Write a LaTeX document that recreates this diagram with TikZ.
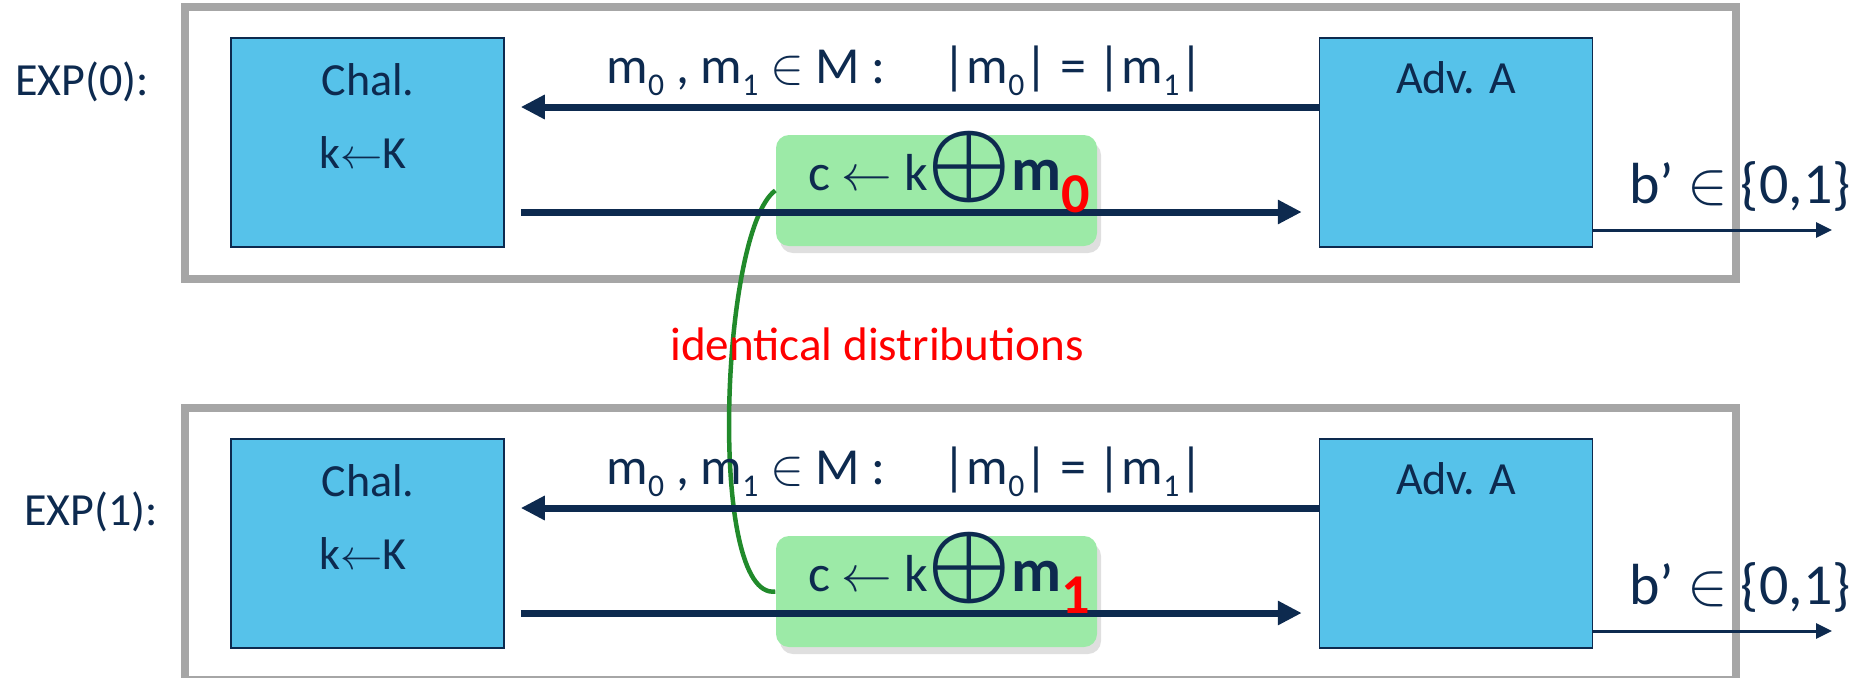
\documentclass[tikz,border=0pt]{standalone}
\usepackage{amsmath,amssymb}
\usepackage{fontspec}
\setmainfont{Carlito}
\usepackage{xcolor}
\usetikzlibrary{positioning,arrows.meta,shadows}
\definecolor{navy}{HTML}{0D2A4F}
\definecolor{boxBlue}{HTML}{56C2EA}
\definecolor{cGreen}{HTML}{9CEAA7}
\definecolor{curveGreen}{HTML}{218A2B}
\definecolor{frameGrey}{HTML}{A6A6A6}
\newcommand{\lowsub}[1]{\raisebox{-3.6pt}{\fontsize{9}{10}\selectfont #1}}
\newcommand{\redsub}[1]{\raisebox{-6.2pt}{\fontsize{16}{18}\selectfont\bfseries\color{red}#1}}
\newcommand{\bigxor}{\scalebox{1.85}{$\boldsymbol{\oplus}$}}

\begin{document}
\begin{tikzpicture}[
  every node/.style={font=\fontsize{13.1}{15}\selectfont, text=navy, inner sep=0pt},
  expframe/.style={draw=frameGrey, line width=0.8mm},
  party/.style={draw=navy, line width=0.15mm, fill=boxBlue, minimum width=2.73cm, minimum height=2.09cm},
  cbox/.style={fill=cGreen, rounded corners=1.3mm, minimum width=3.21cm, minimum height=1.11cm,
    drop shadow={shadow xshift=0.4mm, shadow yshift=-0.7mm, opacity=0.25}},
  msg/.style={draw=navy, line width=0.7mm, -{Triangle[length=2.4mm,width=2.3mm]}},
  outarrow/.style={draw=navy, line width=0.3mm, -{Triangle[length=1.6mm,width=1.5mm]}},
  samedist/.style={draw=curveGreen, line width=0.45mm},
  msglabel/.style={font=\fontsize{14.8}{17}\selectfont},
  ctext/.style={font=\fontsize{14.8}{17}\selectfont},
  outlabel/.style={font=\fontsize{16.5}{19}\selectfont}]
  \useasboundingbox (0,0) rectangle (18.70,6.77);

  \draw[expframe] (1.85,3.98) rectangle (17.36,6.70);
  \draw[expframe] (1.85,-0.03) rectangle (17.36,2.69);

  \node[party] (chal0) at (3.675,5.345) {};
  \node[party] (adv0) at (14.56,5.345) {};
  \node[party] (chal1) at (3.675,1.335) {};
  \node[party] (adv1) at (14.56,1.335) {};

  \node[cbox] (c0) at (9.365,4.865) {};
  \node[cbox] (c1) at (9.365,0.855) {};

  \draw[samedist] (c0.west) .. controls +(-0.55,-0.4) and +(-0.68,-0.09) .. (c1.west);

  \coordinate (out0) at (18.32,4.47);
  \coordinate (out1) at (18.32,0.46);

  \draw[msg] ([yshift=3.55mm]adv0.west) -- ([xshift=1.6mm,yshift=3.55mm]chal0.east);
  \draw[msg] ([xshift=1.6mm,yshift=-6.95mm]chal0.east) -- ([xshift=-1.7mm,yshift=-6.95mm]adv0.west);
  \draw[outarrow] (adv0.east |- out0) -- (out0);

  \draw[msg] ([yshift=3.55mm]adv1.west) -- ([xshift=1.6mm,yshift=3.55mm]chal1.east);
  \draw[msg] ([xshift=1.6mm,yshift=-6.95mm]chal1.east) -- ([xshift=-1.7mm,yshift=-6.95mm]adv1.west);
  \draw[outarrow] (adv1.east |- out1) -- (out1);

  \node[anchor=base] (exp0) at (0.82,5.82) {EXP(0):};
  \node[anchor=base] (chaltxt0) at (3.68,5.82) {Chal.};
  \node[anchor=base] (key0) at (3.63,5.09) {k$\leftarrow$K};
  \node[anchor=base] (advtxt0) at (14.56,5.84) {Adv. A};
  \node[msglabel, anchor=base] (m0) at (9.05,5.94) {m\lowsub{0} , m\lowsub{1} $\in$ M :\hspace{1.1em}|m\lowsub{0}| = |m\lowsub{1}|};
  \node[ctext, anchor=base west] (ct0) at ([xshift=3.2mm]c0.west) {c $\leftarrow$ k\bigxor{\fontsize{17.5}{19}\selectfont\bfseries m}\redsub{0}};
  \node[outlabel, anchor=base] (b0) at (17.40,4.74) {b’ $\in$ \{0,1\}};

  \node[anchor=base, text=red, font=\fontsize{13.4}{16}\selectfont] (iddist) at (8.77,3.17) {identical distributions};

  \node[anchor=base] (exp1) at (0.91,1.52) {EXP(1):};
  \node[anchor=base] (chaltxt1) at (3.68,1.81) {Chal.};
  \node[anchor=base] (key1) at (3.63,1.08) {k$\leftarrow$K};
  \node[anchor=base] (advtxt1) at (14.56,1.83) {Adv. A};
  \node[msglabel, anchor=base] (m1) at (9.05,1.93) {m\lowsub{0} , m\lowsub{1} $\in$ M :\hspace{1.1em}|m\lowsub{0}| = |m\lowsub{1}|};
  \node[ctext, anchor=base west] (ct1) at ([xshift=3.2mm]c1.west) {c $\leftarrow$ k\bigxor{\fontsize{17.5}{19}\selectfont\bfseries m}\redsub{1}};
  \node[outlabel, anchor=base] (b1) at (17.40,0.73) {b’ $\in$ \{0,1\}};
\end{tikzpicture}
\end{document}
